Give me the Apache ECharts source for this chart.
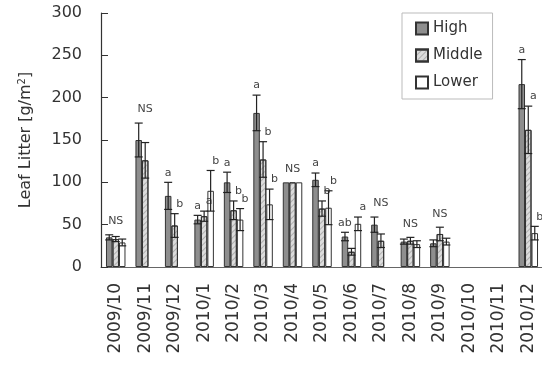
<!DOCTYPE html>
<html>
<head>
<meta charset="utf-8">
<script src="https://cdn.jsdelivr.net/npm/echarts@6/dist/echarts.min.js"></script>
<style>html,body{margin:0;padding:0;background:#fff}#c{width:542px;height:367px}</style>
</head>
<body>
<div id="c"></div>
<script>
const categories = ['2009/10','2009/11','2009/12','2010/1','2010/2','2010/3','2010/4','2010/5','2010/6','2010/7','2010/8','2010/9','2010/10','2010/11','2010/12'];
const high      = [35, 150, 84, 56, 100, 182, 100, 103, 36, 50, 30, 28, null, null, 216];
const highErr   = [3, 20, 16, 5, 12, 21, 0, 8, 5, 9, 3, 4, null, null, 29];
const middle    = [33, 126, 49, 60, 67, 127, 100, 69, 18, 31, 31, 39, null, null, 162];
const middleErr = [3, 21, 14, 6, 11, 21, 0, 9, 4, 8, 4, 8, null, null, 28];
const lower     = [29, null, null, 90, 56, 74, 100, 70, 51, null, 27, 30, null, null, 40];
const lowerErr  = [4, null, null, 24, 13, 18, 0, 20, 8, null, 4, 4, null, null, 8];
const highLetter   = ['', '', 'a', 'a', 'a', 'a', '', 'a', 'ab', '', '', '', '', '', 'a'];
const middleLetter = ['', '', 'b', 'a', 'b', 'b', '', 'b', '', '', '', '', '', '', 'a'];
const lowerLetter  = ['', '', '', 'b', 'b', 'b', '', 'b', 'a', '', '', '', '', '', 'b'];
const groupNote    = ['NS', 'NS', '', '', '', '', 'NS', '', '', 'NS', 'NS', 'NS', '', '', ''];
const yTicks = [0, 50, 100, 150, 200, 250, 300];

const FONT = 'DejaVu Sans';
const BW = 6.5;
const chart = echarts.init(document.getElementById('c'), null, {renderer: 'canvas'});

function errSeries(vals, errs, letters, idx, dx) {
  const data = [];
  vals.forEach((v, k) => { if (v != null) data.push([k, v, errs[k] || 0]); });
  return {
    type: 'custom', z: 5, silent: true,
    encode: {x: 0, y: 1},
    data: data,
    renderItem: function (params, api) {
      const k = api.value(0), v = api.value(1), e = api.value(2);
      const c = api.coord([k, v]);
      const cx = c[0] + (idx - 1) * BW;
      const top = api.coord([k, v + e])[1];
      const bot = api.coord([k, v - e])[1];
      const ch = [];
      const ls = {stroke: '#222', lineWidth: 1.2};
      if (e > 0) {
        ch.push({type: 'line', shape: {x1: cx, y1: top, x2: cx, y2: bot}, style: ls});
        ch.push({type: 'line', shape: {x1: cx - 4, y1: top, x2: cx + 4, y2: top}, style: ls});
        ch.push({type: 'line', shape: {x1: cx - 4, y1: bot, x2: cx + 4, y2: bot}, style: ls});
      }
      const t = letters[k];
      if (t) {
        ch.push({type: 'text', style: {text: t, x: cx + dx, y: top - 4, align: 'center', verticalAlign: 'bottom',
          fontSize: 11, fontFamily: FONT, fill: '#444'}});
      }
      return {type: 'group', children: ch};
    }
  };
}

const noteData = [];
groupNote.forEach((t, k) => {
  if (!t) return;
  const tops = [[high, highErr], [middle, middleErr], [lower, lowerErr]]
    .filter(p => p[0][k] != null).map(p => p[0][k] + (p[1][k] || 0));
  noteData.push([k, Math.max.apply(null, tops)]);
});

const option = {
  animation: false,
  backgroundColor: '#fff',
  grid: {left: 101, top: 13, width: 442, height: 254, outerBoundsMode: 'none'},
  legend: {
    orient: 'vertical', left: 402, top: 13,
    padding: [8, 10, 9, 13],
    icon: 'rect',
    itemWidth: 12, itemHeight: 12, itemGap: 12,
    borderColor: '#bbb', borderWidth: 1, backgroundColor: '#fff',
    textStyle: {fontFamily: FONT, fontSize: 15, color: '#333'},
    data: ['High', 'Middle', 'Lower']
  },
  xAxis: {
    type: 'category', data: categories,
    axisLine: {lineStyle: {color: '#666', width: 1}},
    axisTick: {inside: true, length: 5, lineStyle: {color: '#bbb'}},
    axisLabel: {rotate: 90, margin: 16, fontFamily: FONT, fontSize: 17, color: '#333', interval: 0}
  },
  yAxis: {
    type: 'value', min: yTicks[0], max: yTicks[yTicks.length - 1], interval: yTicks[1] - yTicks[0],
    name: 'Leaf Litter [g/m{sup|2}]', nameLocation: 'middle', nameGap: 66,
    nameTextStyle: {fontFamily: FONT, fontSize: 16, color: '#333',
      rich: {sup: {fontFamily: FONT, fontSize: 10, color: '#333', verticalAlign: 'top', padding: [0, 0, 8, 0]}}},
    axisLine: {show: true, lineStyle: {color: '#333', width: 1.2}},
    axisTick: {show: true, inside: true, length: 7, lineStyle: {color: '#333'}},
    axisLabel: {margin: 19, fontFamily: FONT, fontSize: 16, color: '#333'},
    splitLine: {show: false}
  },
  series: [
    {name: 'High', type: 'bar', data: high, barWidth: BW, barGap: '0%',
      itemStyle: {color: '#8e8e8e', borderColor: '#333', borderWidth: 1}},
    {name: 'Middle', type: 'bar', data: middle, barWidth: BW, barGap: '0%',
      itemStyle: {color: '#dcdcdc', borderColor: '#333', borderWidth: 1,
        decal: {symbol: 'rect', symbolSize: 1, color: 'rgba(120,120,120,0.45)', dashArrayX: [1, 0], dashArrayY: [1, 3], rotation: -Math.PI / 4}}},
    {name: 'Lower', type: 'bar', data: lower, barWidth: BW, barGap: '0%',
      itemStyle: {color: '#ffffff', borderColor: '#333', borderWidth: 1}},
    errSeries(high, highErr, highLetter, 0, 0),
    errSeries(middle, middleErr, middleLetter, 1, 5),
    errSeries(lower, lowerErr, lowerLetter, 2, 5),
    {
      type: 'custom', z: 5, silent: true, encode: {x: 0, y: 1}, data: noteData,
      renderItem: function (params, api) {
        const k = api.value(0);
        const c = api.coord([k, api.value(1)]);
        return {type: 'text', style: {text: groupNote[k], x: c[0], y: c[1] - 8, align: 'center', verticalAlign: 'bottom',
          fontSize: 11, fontFamily: FONT, fill: '#444'}};
      }
    }
  ]
};
chart.setOption(option);
</script>
</body>
</html>
